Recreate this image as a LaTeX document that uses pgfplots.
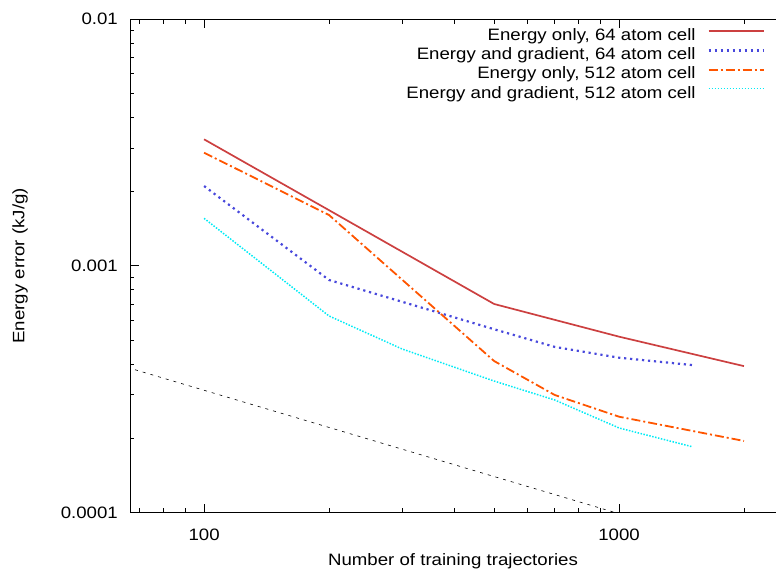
\documentclass[border=0pt]{standalone}
\usepackage{fontspec}
\setmainfont[FakeStretch=1.13]{Liberation Sans}
\usepackage{pgfplots}
\pgfplotsset{compat=1.18}
\usetikzlibrary{calc}
\definecolor{cred}{RGB}{204,64,64}
\definecolor{cblue}{RGB}{72,72,220}
\definecolor{corange}{RGB}{255,85,0}
\definecolor{ccyan}{RGB}{0,235,245}
\tikzset{
  sred/.style={draw=cred, line width=1.7pt},
  sblue/.style={draw=cblue, line width=2.2pt, dash pattern=on 2.2pt off 3.8pt},
  sorange/.style={draw=corange, line width=1.8pt, dash pattern=on 9pt off 3pt on 2pt off 3pt},
  scyan/.style={draw=ccyan, line width=1.5pt, dash pattern=on 1.5pt off 1.5pt},
}
\begin{document}
\fontsize{16.5}{19}\selectfont
\begin{tikzpicture}
\begin{axis}[name=ax,
  xmode=log, ymode=log,
  scale only axis, width=646pt, height=493.5pt,
  xmin=66.3, xmax=2389, ymin=1e-4, ymax=1e-2,
  axis y line*=left, axis x line*=box,
  axis line style={line width=0.9pt,-},
  every tick/.style={black, line width=0.8pt},
  tick align=inside,
  major tick length=9pt, minor tick length=4.5pt,
  xtick={100,1000}, xticklabels={100,1000},
  minor xtick={70,80,90,200,300,400,500,600,700,800,900,2000},
  ytick={0.0001,0.001,0.01}, yticklabels={0.0001,0.001,0.01},
  minor ytick={0.0002,0.0003,0.0004,0.0005,0.0006,0.0007,0.0008,0.0009,0.002,0.003,0.004,0.005,0.006,0.007,0.008,0.009},
  yticklabel style={inner sep=0pt, xshift=-12pt, anchor=east},
  xticklabel style={inner sep=0pt, yshift=-16.5pt, anchor=north},
  xlabel={Number of training trajectories},
  ylabel={Energy error (kJ/g)},
  x label style={at={(axis description cs:0.5,0)}, anchor=center, yshift=-48.5pt},
  y label style={at={(axis description cs:0,0.5)}, anchor=center, yshift=110pt},
  legend style={draw=none, fill=none, inner sep=0pt, at={(axis description cs:1,1)}, anchor=north east, xshift=-11pt, yshift=-9pt,
    nodes={inner sep=0pt, text height=12pt, text depth=4pt}, row sep=3.3pt, column sep=12pt},
  legend cell align=right,
  legend plot pos=right,
  clip=true,
]
\addlegendimage{legend image code/.code={\draw[sred] (0pt,5pt) -- (55pt,5pt);}}
\addlegendentry{Energy only, 64 atom cell}
\addlegendimage{legend image code/.code={\draw[sblue] (0pt,5pt) -- (55pt,5pt);}}
\addlegendentry{Energy and gradient, 64 atom cell}
\addlegendimage{legend image code/.code={\draw[sorange] (0pt,5pt) -- (55pt,5pt);}}
\addlegendentry{Energy only, 512 atom cell}
\addlegendimage{legend image code/.code={\draw[scyan] (0pt,5.5pt) -- (55pt,5.5pt);}}
\addlegendentry{Energy and gradient, 512 atom cell}
\addplot[sred, forget plot] coordinates {
  (100,0.003254) (200,0.00168) (500,0.000700) (1000,0.000516) (2000,0.000392)};
\addplot[sblue, forget plot] coordinates {
  (100,0.002104) (200,0.000876) (500,0.000553) (700,0.000469) (1000,0.000424) (1500,0.000396)};
\addplot[sorange, forget plot] coordinates {
  (100,0.002872) (200,0.001606) (500,0.000411) (700,0.0002994) (1000,0.0002445) (2000,0.000195)};
\addplot[scyan, forget plot] coordinates {
  (100,0.001557) (200,0.000626) (300,0.00046) (500,0.000341) (700,0.0002857) (1000,0.0002201) (1500,0.0001848)};
\addplot[black, line width=0.6pt, dash pattern=on 3pt off 5pt, forget plot] coordinates {
  (60,0.000404) (1100,0.0000943)};
\end{axis}
\pgfresetboundingbox
\path[use as bounding box] ($(ax.south west)+(-130pt,-57.5pt)$) rectangle ($(ax.north east)+(0pt,19pt)$);
\end{tikzpicture}
\end{document}
